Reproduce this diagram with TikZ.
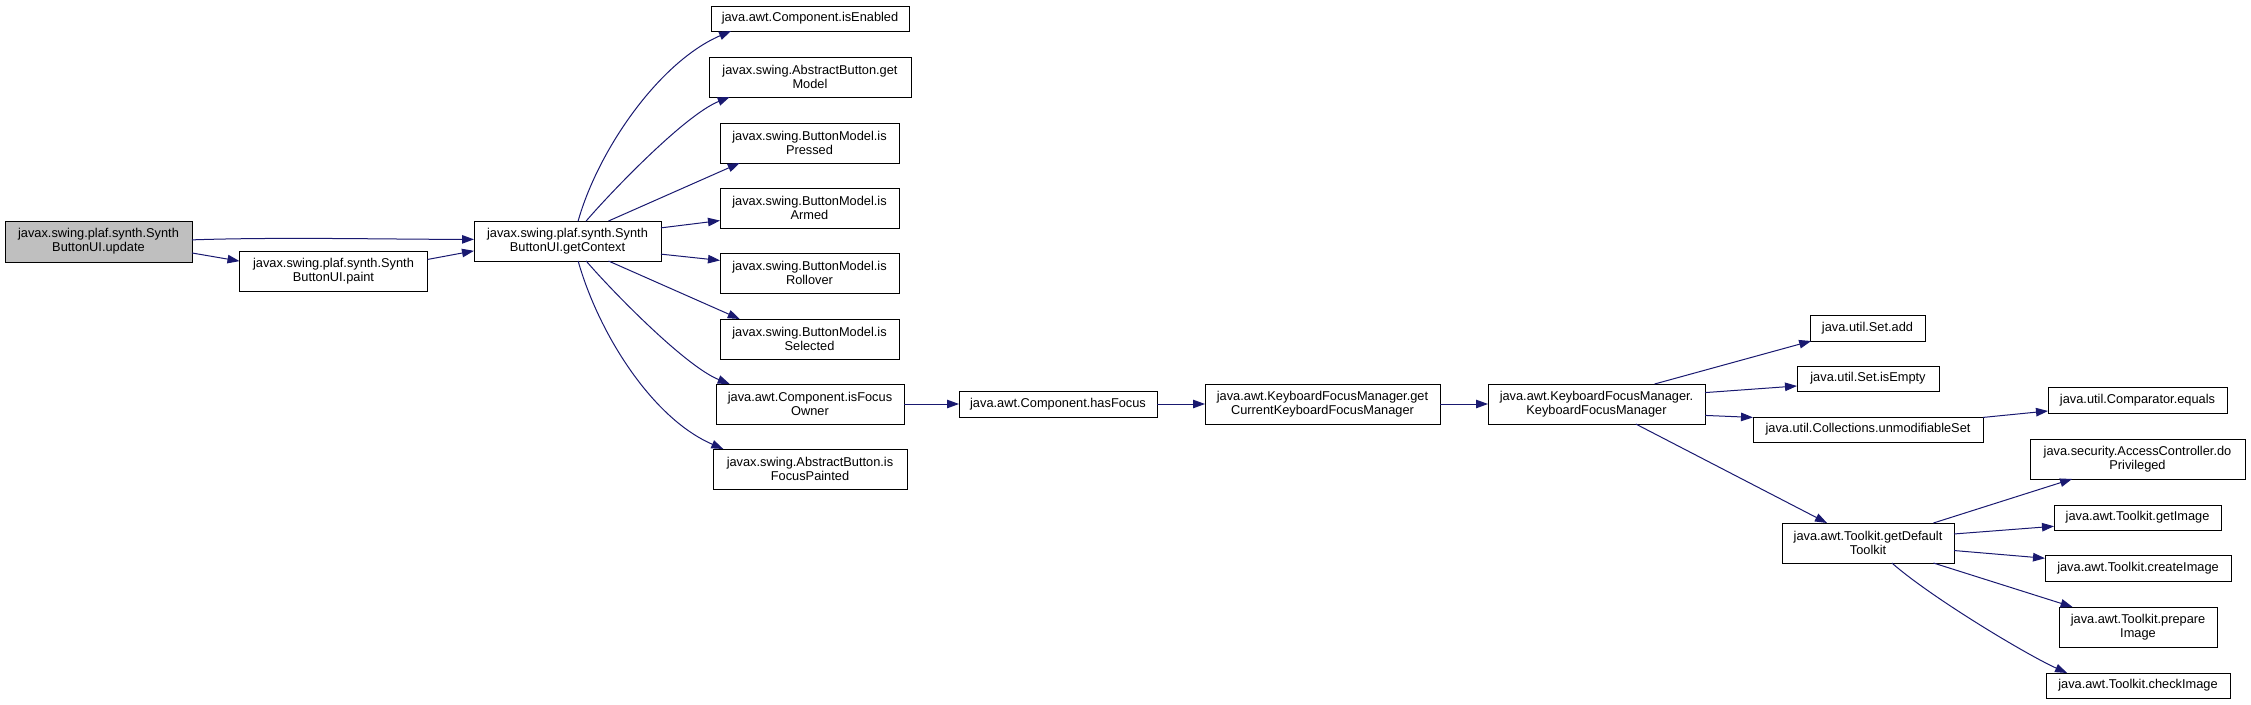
\documentclass[tikz,border=0pt]{standalone}
\usepackage{fontspec}
\setmainfont{Liberation Sans}
\usepackage{tikz}
\usetikzlibrary{arrows.meta}
\usepackage{xcolor}
\definecolor{Navyedge}{RGB}{25,25,112}
\definecolor{Rootgray}{RGB}{191,191,191}

\begin{document}
\begin{tikzpicture}[x=1pt,y=-1pt,
  box/.style={draw=black,line width=1pt,fill=white,align=center,inner sep=0pt,outer sep=0pt,
              font=\fontsize{12.8}{14.3}\selectfont},
  edge/.style={draw=Navyedge,line width=1pt,-{Triangle[length=12pt,width=8.5pt]}}]
\useasboundingbox (0,0) rectangle (2251,704);
%
% caller and getContext
\node[box,fill=Rootgray,minimum width=187pt,minimum height=41pt] (upd) at (98.5,241.5) {javax.swing.plaf.synth.Synth\\ButtonUI.update};
\node[box,minimum width=188pt,minimum height=40pt] (paint) at (333.5,271) {javax.swing.plaf.synth.Synth\\ButtonUI.paint};
\node[box,minimum width=187pt,minimum height=40pt] (gc) at (567.5,241) {javax.swing.plaf.synth.Synth\\ButtonUI.getContext};
%
% callees of getContext
\node[box,minimum width=198pt,minimum height=25pt] (en) at (810,18.5) {java.awt.Component.isEnabled};
\node[box,minimum width=202pt,minimum height=40pt] (gm) at (810,77) {javax.swing.AbstractButton.get\\Model};
\node[box,minimum width=179pt,minimum height=40pt] (pr) at (809.5,143) {javax.swing.ButtonModel.is\\Pressed};
\node[box,minimum width=179pt,minimum height=40pt] (ar) at (809.5,208) {javax.swing.ButtonModel.is\\Armed};
\node[box,minimum width=179pt,minimum height=40pt] (ro) at (809.5,273) {javax.swing.ButtonModel.is\\Rollover};
\node[box,minimum width=179pt,minimum height=40pt] (se) at (809.5,339) {javax.swing.ButtonModel.is\\Selected};
\node[box,minimum width=188pt,minimum height=40pt] (fo) at (810,404) {java.awt.Component.isFocus\\Owner};
\node[box,minimum width=194pt,minimum height=40pt] (fp) at (810,469) {javax.swing.AbstractButton.is\\FocusPainted};
%
% focus chain
\node[box,minimum width=198pt,minimum height=26pt] (hf) at (1058,404) {java.awt.Component.hasFocus};
\node[box,minimum width=235pt,minimum height=40pt] (gck) at (1322.5,404) {java.awt.KeyboardFocusManager.get\\CurrentKeyboardFocusManager};
\node[box,minimum width=217pt,minimum height=40pt] (kfm) at (1596.5,404) {java.awt.KeyboardFocusManager.\\KeyboardFocusManager};
%
\node[box,minimum width=115pt,minimum height=26pt] (add) at (1867.5,328) {java.util.Set.add};
\node[box,minimum width=142pt,minimum height=25pt] (emp) at (1868,378.5) {java.util.Set.isEmpty};
\node[box,minimum width=230pt,minimum height=25pt] (uns) at (1868,429.5) {java.util.Collections.unmodifiableSet};
\node[box,minimum width=172pt,minimum height=40pt] (gdt) at (1868,543) {java.awt.Toolkit.getDefault\\Toolkit};
%
\node[box,minimum width=179pt,minimum height=26pt] (cmp) at (2137.5,400) {java.util.Comparator.equals};
\node[box,minimum width=215pt,minimum height=40pt] (dop) at (2137.5,459) {java.security.AccessController.do\\Privileged};
\node[box,minimum width=167pt,minimum height=25pt] (gi) at (2137.5,517.5) {java.awt.Toolkit.getImage};
\node[box,minimum width=186pt,minimum height=26pt] (ci) at (2138,568) {java.awt.Toolkit.createImage};
\node[box,minimum width=158pt,minimum height=40pt] (pi) at (2138,627) {java.awt.Toolkit.prepare\\Image};
\node[box,minimum width=184pt,minimum height=25pt] (chk) at (2138,685.5) {java.awt.Toolkit.checkImage};
%
% calls
\draw[edge] (upd.1) .. controls +(90,-3) and +(-90,0) .. (gc.179);
\draw[edge] (upd.-7) -- (paint.174);
\draw[edge] (paint.7) -- (gc.186);
\draw[edge] (gc.62) .. controls +(20,-71) and +(-72,31) .. (en.189);
\draw[edge] (gc.47) .. controls +(24,-28) and +(-45,18) .. (gm.194);
\draw[edge] (gc.26) -- (pr.196);
\draw[edge] (gc.8) -- (ar.188);
\draw[edge] (gc.-8) -- (ro.172);
\draw[edge] (gc.-26) -- (se.164);
\draw[edge] (gc.-47) .. controls +(24,28) and +(-45,-18) .. (fo.166);
\draw[edge] (gc.-62) .. controls +(20,71) and +(-72,-31) .. (fp.167);
\draw[edge] (fo) -- (hf);
\draw[edge] (hf) -- (gck);
\draw[edge] (gck) -- (kfm);
\draw[edge] (kfm.19) -- (add.193);
\draw[edge] (kfm.6) -- (emp.186);
\draw[edge] (kfm.-6) -- (uns.174);
\draw[edge] (kfm.-27) -- (gdt.154);
\draw[edge] (uns.6) -- (cmp.187);
\draw[edge] (gdt.17) -- (dop.197);
\draw[edge] (gdt.6) -- (gi.186);
\draw[edge] (gdt.-5) -- (ci.174);
\draw[edge] (gdt.-17) -- (pi.163);
\draw[edge] (gdt.-40) .. controls +(40,35) and +(-40,-18) .. (chk.170);
%
\end{tikzpicture}
\end{document}
